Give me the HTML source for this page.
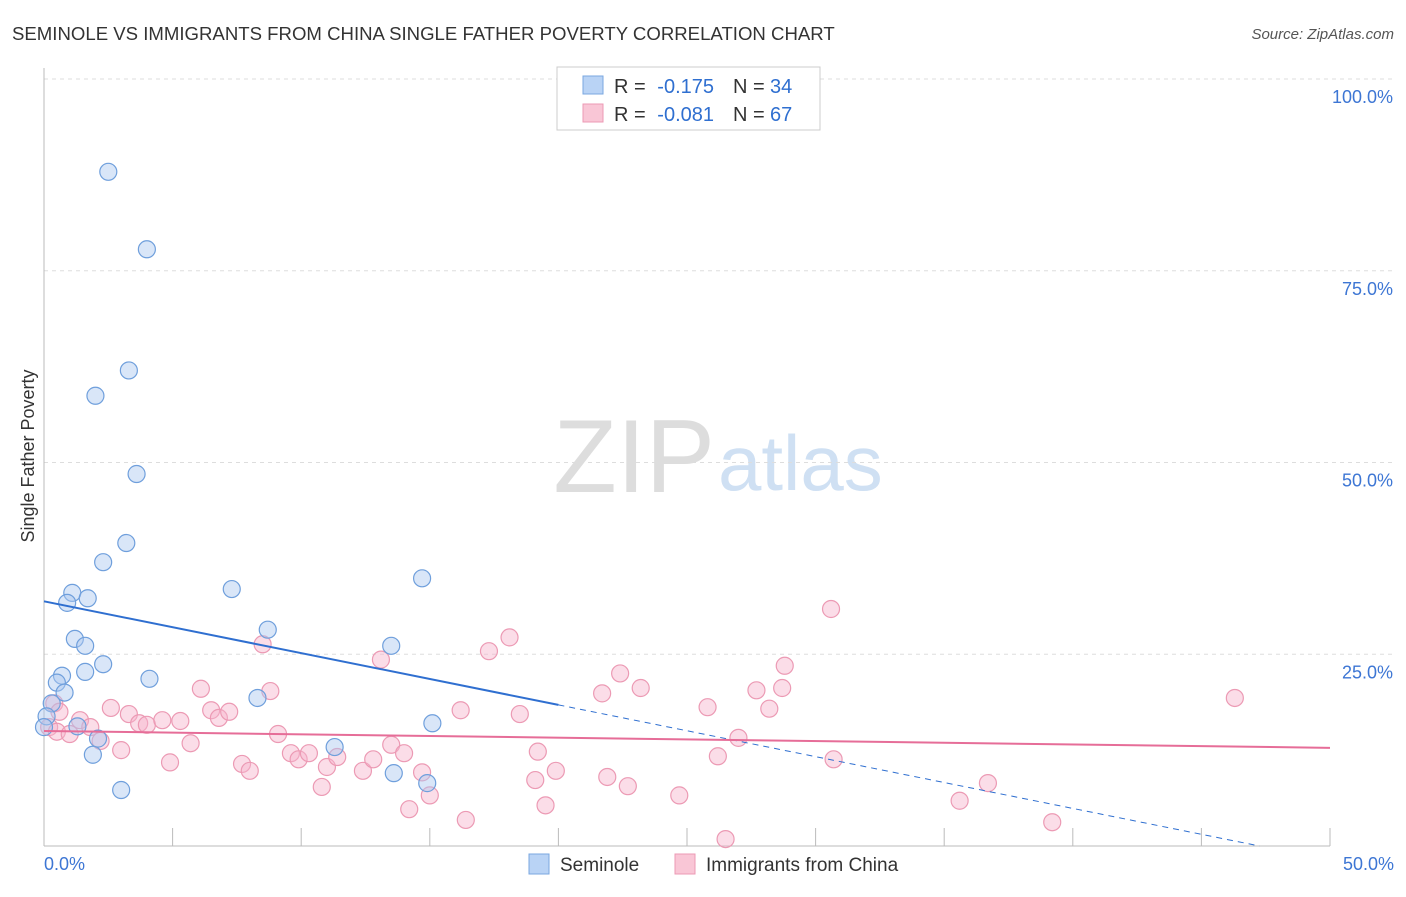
<!DOCTYPE html>
<html><head><meta charset="utf-8">
<style>
body{margin:0;background:#fff;font-family:"Liberation Sans",sans-serif;}
svg text{font-family:"Liberation Sans",sans-serif;}
</style></head>
<body>
<svg width="1406" height="892" xmlns="http://www.w3.org/2000/svg">
<text x="12" y="40" font-size="18.6" fill="#333">SEMINOLE VS IMMIGRANTS FROM CHINA SINGLE FATHER POVERTY CORRELATION CHART</text>
<text x="1394" y="39" font-size="15" fill="#555" font-style="italic" text-anchor="end">Source: ZipAtlas.com</text>
<text x="715" y="492" font-size="104" fill="#ddd" text-anchor="end" font-family="Liberation Serif">ZIP</text>
<text x="718" y="490" font-size="78" fill="#cfe0f3">atlas</text>
<g id="grid"></g>
<g id="axes"></g>
<g id="pink"></g>
<g id="blue"></g>
<g id="trends"></g>
<text transform="translate(34,456) rotate(-90)" font-size="18" fill="#333" text-anchor="middle">Single Father Poverty</text>
<g>
<rect x="557" y="67" width="263" height="63" fill="#fff" stroke="#ccc"/>
<rect x="583" y="76" width="20" height="18" fill="#b9d3f5" stroke="#7aa7e0"/>
<rect x="583" y="104" width="20" height="18" fill="#f9c6d6" stroke="#ec9ab4"/>
<text x="614" y="93" font-size="20" fill="#333">R =</text>
<text x="714" y="93" font-size="20" fill="#2f6fd0" text-anchor="end">-0.175</text>
<text x="733" y="93" font-size="20" fill="#333">N =</text>
<text x="770" y="93" font-size="20" fill="#2f6fd0">34</text>
<text x="614" y="121" font-size="20" fill="#333">R =</text>
<text x="714" y="121" font-size="20" fill="#2f6fd0" text-anchor="end">-0.081</text>
<text x="733" y="121" font-size="20" fill="#333">N =</text>
<text x="770" y="121" font-size="20" fill="#2f6fd0">67</text>
</g>
<g>
<rect x="529" y="854" width="20" height="20" fill="#b9d3f5" stroke="#7aa7e0"/>
<text x="560" y="871" font-size="19" fill="#333">Seminole</text>
<rect x="675" y="854" width="20" height="20" fill="#f9c6d6" stroke="#ec9ab4"/>
<text x="706" y="871" font-size="19" fill="#333">Immigrants from China</text>
</g>
</svg>
<script>
const xTicks=[0,5,10,15,20,25,30,35,40,45,50];
const yTicks=[25,50,75,100];
const yTickLabels=["25.0%","50.0%","75.0%","100.0%"];
const blueX=[2.5,4.0,3.3,2.0,3.6,3.2,2.3,1.1,1.7,0.9,7.3,14.7,1.2,1.6,8.7,13.5,2.3,0.7,0.5,0.8,1.6,4.1,8.3,0.3,0.1,1.3,0.0,2.1,1.9,11.3,15.1,13.6,14.9,3.0];
const blueY=[87.9,77.8,62.0,58.7,48.5,39.5,37.0,33.0,32.3,31.7,33.5,34.9,27.0,26.1,28.2,26.1,23.7,22.2,21.3,20.0,22.7,21.8,19.3,18.6,16.9,15.6,15.5,14.0,11.9,12.9,16.0,9.5,8.2,7.3];
const pinkX=[0.4,0.6,0.2,0.5,1.0,1.4,1.8,2.2,2.6,3.0,3.3,3.7,4.0,4.6,4.9,5.3,5.7,6.1,6.5,6.8,7.2,7.7,8.0,8.5,8.8,9.1,9.6,9.9,10.3,10.8,11.0,11.4,12.4,12.8,13.1,13.5,14.0,14.2,14.7,15.0,16.2,16.4,17.3,18.1,18.5,19.1,19.2,19.5,19.9,21.7,21.9,22.4,22.7,23.2,24.7,25.8,26.2,26.5,27.0,27.7,28.2,28.7,28.8,30.6,30.7,35.6,36.7,39.2,46.3];
const pinkY=[18.6,17.5,15.5,14.9,14.6,16.4,15.5,13.7,18.0,12.5,17.2,16.0,15.8,16.4,10.9,16.3,13.4,20.5,17.7,16.7,17.5,10.7,9.8,26.3,20.2,14.6,12.1,11.3,12.1,7.7,10.3,11.6,9.8,11.3,24.3,13.2,12.1,4.8,9.6,6.6,17.7,3.4,25.4,27.2,17.2,8.6,12.3,5.3,9.8,19.9,9.0,22.5,7.8,20.6,6.6,18.1,11.7,0.9,14.1,20.3,17.9,20.6,23.5,30.9,11.3,5.9,8.2,3.1,19.3];
const blueTrend=[31.9,-0.675];
const pinkTrend=[15.0,-0.044];
const NS="http://www.w3.org/2000/svg";
const X=v=>44+v*25.72, Y=v=>846-v*7.67;
function mk(p,t,a){const e=document.createElementNS(NS,t);for(const k in a)e.setAttribute(k,a[k]);p.appendChild(e);return e;}
const grid=document.getElementById('grid'),axes=document.getElementById('axes');
yTicks.forEach((t,i)=>{
 const l=mk(grid,'line',{x1:44,x2:1394,y1:Y(t),y2:Y(t),stroke:'#ddd','stroke-dasharray':'4,4'});
 
 
 const tx=mk(axes,'text',{x:1393,y:Y(t)+24,'font-size':18,fill:'#3d76d4','text-anchor':'end'});
 tx.textContent=yTickLabels[i];
 
 
});
const ax=mk(axes,'line',{x1:44,x2:1330,y1:846,y2:846,stroke:'#bbb'});


const ay=mk(axes,'line',{x1:44,x2:44,y1:68,y2:846,stroke:'#bbb'});


xTicks.forEach(t=>{const l=mk(axes,'line',{x1:X(t),x2:X(t),y1:828,y2:846,stroke:'#bbb'});
 
 });
[[0,'0.0%','start',44],[50,'50.0%','end',1394]].forEach(d=>{const tx=mk(axes,'text',{x:d[3],y:870,'font-size':18,fill:'#3d76d4','text-anchor':d[2]});tx.textContent=d[1];
 
 });
const pg=document.getElementById('pink'),bg=document.getElementById('blue');
pinkX.forEach((x,i)=>{const c=mk(pg,'circle',{cx:X(x),cy:Y(pinkY[i]),r:8.5,fill:'rgba(246,180,203,0.45)',stroke:'#ec9ab4','stroke-width':1.2});
 
 });
blueX.forEach((x,i)=>{const c=mk(bg,'circle',{cx:X(x),cy:Y(blueY[i]),r:8.5,fill:'rgba(170,200,240,0.45)',stroke:'#6f9fdc','stroke-width':1.2});
 
 });
const tg=document.getElementById('trends');
const bz=-blueTrend[0]/blueTrend[1];
const b1=mk(tg,'line',{x1:X(0),y1:Y(blueTrend[0]),x2:X(20),y2:Y(blueTrend[0]+blueTrend[1]*20),stroke:'#2f6fd0','stroke-width':2});


const b2=mk(tg,'line',{x1:X(20),y1:Y(blueTrend[0]+blueTrend[1]*20),x2:X(bz),y2:Y(0),stroke:'#2f6fd0','stroke-width':1,'stroke-dasharray':'6,5'});


const p1=mk(tg,'line',{x1:X(0),y1:Y(pinkTrend[0]),x2:X(50),y2:Y(pinkTrend[0]+pinkTrend[1]*50),stroke:'#e66d98','stroke-width':2});


</script>
</body></html>
